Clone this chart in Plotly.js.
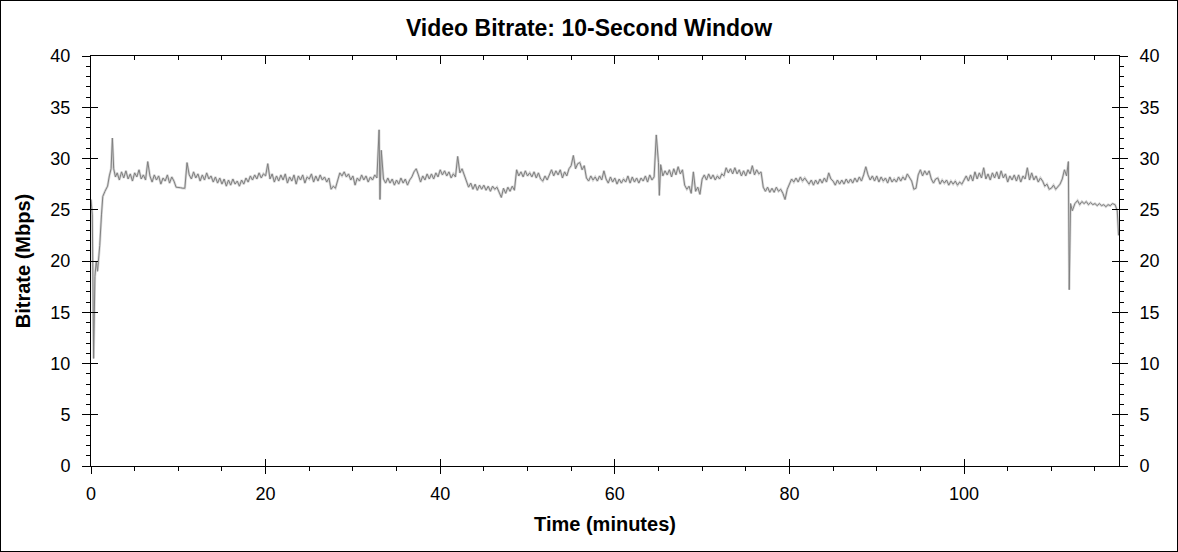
<!DOCTYPE html>
<html><head><meta charset="utf-8">
<script src="https://cdn.plot.ly/plotly-3.0.1.min.js"></script>
<style>
html,body{margin:0;padding:0;background:#fff}
#wrap{position:relative;width:1178px;height:552px}
#chart{width:1178px;height:552px}
#frame{position:absolute;left:0;top:0;width:1178px;height:552px;box-sizing:border-box;border:1px solid #000;pointer-events:none}
</style>
</head><body><div id="wrap"><div id="chart"></div><div id="frame"></div></div>
<script>
const timeMin = [
0.0,0.15,0.3,0.45,0.6,0.75,0.9,1.0,1.2,1.35,1.6,1.9,2.1,2.3,2.45,2.6,2.8,
3,3.25,3.5,3.75, 4,4.25,4.5,4.75, 5,5.25,5.5,5.75, 6,6.25,6.5,6.75, 7,7.25,7.5,7.75,
8,8.25,8.5,8.75, 9,9.25,9.5,9.75, 10,10.25,10.5,10.75, 11,11.25,11.5,11.75, 12,12.25,12.5,12.75,
13,13.25,13.5,13.75, 14,14.25,14.5,14.75, 15,15.25,15.5,15.75, 16,16.25,16.5,16.75, 17,17.25,17.5,17.75,
18,18.25,18.5,18.75, 19,19.25,19.5,19.75, 20,20.25,20.5,20.75, 21,21.25,21.5,21.75, 22,22.25,22.5,22.75,
23,23.25,23.5,23.75, 24,24.25,24.5,24.75, 25,25.25,25.5,25.75, 26,26.25,26.5,26.75, 27,27.25,27.5,27.75,
28,28.25,28.5,28.75, 29,29.25,29.5,29.75, 30,30.25,30.5,30.75, 31,31.25,31.5,31.75, 32,32.25,32.5,32.75,
33,33.1,33.25,33.5,33.75, 34,34.25,34.5,34.75, 35,35.25,35.5,35.75, 36,36.25,36.5,36.75, 37,37.25,37.5,37.75,
38,38.25,38.5,38.75, 39,39.25,39.5,39.75, 40,40.25,40.5,40.75, 41,41.25,41.5,41.75, 42,42.25,42.5,42.75,
43,43.25,43.5,43.75, 44,44.25,44.5,44.75, 45,45.25,45.5,45.75, 46,46.25,46.5,46.75, 47,47.25,47.5,47.75,
48,48.25,48.5,48.75, 49,49.25,49.5,49.75, 50,50.25,50.5,50.75, 51,51.25,51.5,51.75, 52,52.25,52.5,52.75,
53,53.25,53.5,53.75, 54,54.25,54.5,54.75, 55,55.25,55.5,55.75, 56,56.25,56.5,56.75, 57,57.25,57.5,57.75,
58,58.25,58.5,58.75, 59,59.25,59.5,59.75, 60,60.25,60.5,60.75, 61,61.25,61.5,61.75, 62,62.25,62.5,62.75,
63,63.25,63.5,63.75, 64,64.25,64.5,64.75, 65,65.1,65.25,65.5,65.75, 66,66.25,66.5,66.75, 67,67.25,67.5,67.75,
68,68.25,68.5,68.75, 69,69.25,69.5,69.75, 70,70.25,70.5,70.75, 71,71.25,71.5,71.75, 72,72.25,72.5,72.75,
73,73.25,73.5,73.75, 74,74.25,74.5,74.75, 75,75.25,75.5,75.75, 76,76.25,76.5,76.75, 77,77.25,77.5,77.75,
78,78.25,78.5,78.75, 79,79.25,79.5,79.75, 80,80.25,80.5,80.75, 81,81.25,81.5,81.75, 82,82.25,82.5,82.75,
83,83.25,83.5,83.75, 84,84.25,84.5,84.75, 85,85.25,85.5,85.75, 86,86.25,86.5,86.75, 87,87.25,87.5,87.75,
88,88.25,88.5,88.75, 89,89.25,89.5,89.75, 90,90.25,90.5,90.75, 91,91.25,91.5,91.75, 92,92.25,92.5,92.75,
93,93.25,93.5,93.75, 94,94.25,94.5,94.75, 95,95.25,95.5,95.75, 96,96.25,96.5,96.75, 97,97.25,97.5,97.75,
98,98.25,98.5,98.75, 99,99.25,99.5,99.75, 100,100.25,100.5,100.75, 101,101.25,101.5,101.75, 102,102.25,102.5,102.75,
103,103.25,103.5,103.75, 104,104.25,104.5,104.75, 105,105.25,105.5,105.75, 106,106.25,106.5,106.75, 107,107.25,107.5,107.75,
108,108.25,108.5,108.75, 109,109.25,109.5,109.75, 110,110.25,110.5,110.75, 111,111.25,111.5,111.75,
111.95,112.05,112.2,112.4,112.7,113,113.25,113.5,113.75,114,114.25,114.5,114.75,115,115.25,115.5,115.75,
116,116.25,116.5,116.75,117,117.3,117.55,117.7
];
const bitrateMbps = [
26.0,24.5,10.5,18.5,20.0,19.0,20.5,21.5,24.5,26.3,26.8,27.3,28.3,29.0,32.0,29.0,28.2,
28.6,27.9,28.7,28.1, 28.8,28.0,28.5,27.8, 28.6,28.2,28.9,28.0, 28.4,27.9,29.7,28.3, 27.7,28.4,27.9,28.3,
27.5,28.1,27.8,28.4, 27.6,28.2,27.8,27.2, 27.2,27.15,27.1,27.1, 29.6,28.4,28.0,28.7, 28.1,28.5,27.8,28.4,
27.9,28.6,28.0,28.3, 27.7,28.2,27.6,28.1, 27.5,28.0,27.3,27.9, 27.4,28.0,27.5,27.8, 27.3,27.9,27.5,28.1,
27.7,28.3,27.9,28.4, 28.0,28.6,28.1,28.5, 28.3,29.5,28.0,28.5, 27.7,28.3,27.8,28.4, 27.9,28.5,27.6,28.2,
27.8,28.4,27.5,28.3, 27.9,28.4,27.6,28.2, 28.0,28.5,27.7,28.3, 27.8,28.4,27.9,28.2, 27.7,28.1,27.0,27.3,
27.1,28.0,28.6,28.3, 28.7,28.2,28.5,27.9, 28.3,27.4,28.1,27.8, 28.4,27.9,28.3,27.7, 28.2,27.9,28.4,28.1,
32.8,26.0,30.8,28.0,27.6, 28.1,27.6,28.0,27.4, 27.9,27.5,28.1,27.6, 28.0,27.4,27.9,28.2, 28.7,29.0,28.4,27.7,
28.3,27.9,28.5,28.0, 28.5,28.0,28.6,28.2, 28.9,28.4,28.8,28.3, 28.7,28.1,28.5,28.2, 30.2,28.6,29.0,28.4,
27.6,27.2,27.6,27.0, 27.5,26.9,27.4,27.0, 27.4,26.9,27.3,26.8, 27.3,27.0,27.2,26.7, 26.2,27.1,26.6,27.2,
26.8,27.3,26.9,28.9, 28.3,28.7,28.2,28.8, 28.3,28.6,28.2,28.7, 28.1,28.6,28.0,27.8, 28.3,27.9,28.5,28.9,
28.3,28.8,28.4,28.9, 28.1,28.7,28.3,29.0, 29.3,30.3,29.0,29.5, 29.6,28.9,29.3,28.1, 27.8,28.3,27.9,28.2,
27.8,28.3,27.9,28.8, 28.0,27.6,28.2,27.7, 28.1,27.5,28.0,27.6, 28.0,27.7,28.3,27.6, 28.2,27.7,28.1,27.6,
28.1,27.8,28.3,27.7, 28.4,27.9,28.2,32.3, 29.6,26.4,29.4,28.3,28.8, 28.4,28.9,28.2,29.0, 28.4,29.2,28.5,28.9,
27.4,27.0,27.3,26.6, 28.7,26.8,27.2,26.5, 28.0,28.4,27.9,28.5, 28.0,28.4,27.9,28.3, 28.0,28.5,28.3,29.1,
28.6,29.0,28.5,29.1, 28.5,28.9,28.3,28.8, 28.3,28.9,28.5,29.3, 28.4,28.9,28.5,28.7, 27.2,26.8,27.2,26.7,
27.1,26.7,27.2,26.8, 27.0,26.6,26.0,27.0, 27.6,28.0,27.7,28.1, 27.7,28.2,27.8,28.1, 27.8,27.5,27.9,27.4,
27.9,27.5,28.0,27.6, 28.1,27.7,28.6,28.0, 27.8,27.4,27.9,27.5, 27.9,27.5,28.0,27.6, 28.0,27.6,28.1,27.7,
28.2,27.8,28.4,29.2, 28.4,27.9,28.3,27.8, 28.3,27.7,28.2,27.8, 28.1,27.6,28.2,27.7, 28.0,27.7,28.2,27.8,
28.2,27.9,28.5,28.1, 27.8,27.0,27.1,28.4, 28.9,28.3,28.8,28.4, 28.8,28.0,27.6,28.0, 28.1,27.5,27.9,27.6,
27.9,27.4,27.8,27.5, 27.8,27.4,27.7,27.5, 27.9,28.3,27.8,28.4, 27.8,28.7,28.0,28.6, 28.1,29.1,28.0,28.5,
27.9,28.6,28.1,28.7, 28.0,28.8,28.1,28.5, 27.7,28.3,27.9,28.4, 27.8,28.4,27.7,28.3, 28.0,29.1,27.9,28.6,
27.9,28.3,27.7,28.1, 27.8,27.3,27.5,27.0, 27.1,27.4,27.0,27.3, 27.5,28.0,28.9,28.3,
29.7,17.2,25.6,24.9,25.6,25.9,25.5,25.8,25.6,25.8,25.5,25.7,25.5,25.6,25.4,25.6,25.4,
25.5,25.3,25.5,25.4,25.6,25.5,24.9,22.5
];
const xTickVals = [0,20,40,60,80,100];
const xTickText = ['0','20','40','60','80','100'];
const yTickVals = [0,5,10,15,20,25,30,35,40];
const yTickText = ['0','5','10','15','20','25','30','35','40'];
const chartTitle = 'Video Bitrate: 10-Second Window';
const xTitle = 'Time (minutes)';
const yTitle = 'Bitrate (Mbps)';

const F = '"Liberation Sans", Arial, sans-serif';
const xRange = [0, 117.75];
const yRange = [0, 40];
const tickFont = {family: F, size: 18, color: '#000'};
const base = {showgrid: false, zeroline: false, fixedrange: true, automargin: false, tickcolor: '#000', tickwidth: 1};

const traces = [
  {x: timeMin, y: bitrateMbps, mode: 'lines', line: {color: '#d6d6d6', width: 2.5}, xaxis: 'x', yaxis: 'y', hoverinfo: 'skip'},
  {x: timeMin, y: bitrateMbps, mode: 'lines', line: {color: '#808080', width: 1}, xaxis: 'x', yaxis: 'y'},
  {x: [], y: [], mode: 'lines', xaxis: 'x2', yaxis: 'y2'},
  {x: [], y: [], mode: 'lines', xaxis: 'x3', yaxis: 'y3'},
  {x: [], y: [], mode: 'lines', xaxis: 'x2', yaxis: 'y4'}
];

const layout = {
  width: 1178, height: 552,
  margin: {l: 91, r: 59, t: 56, b: 86, pad: 0},
  paper_bgcolor: '#fff', plot_bgcolor: '#fff',
  showlegend: false,
  title: {text: chartTitle, font: {family: F, size: 23, color: '#000', weight: 'bold'}, x: 0.5, xanchor: 'center', y: 1 - 28/552, yanchor: 'middle', yref: 'container'},
  xaxis: Object.assign({}, base, {
    range: xRange, anchor: 'y', side: 'bottom',
    tickmode: 'array', tickvals: xTickVals, ticktext: xTickText,
    ticks: 'outside', ticklen: 7, tickfont: tickFont, ticklabelstandoff: 4,
    showline: true, linecolor: '#000', linewidth: 1,
    minor: {ticks: 'outside', ticklen: 4, dtick: 5, tick0: 0, tickcolor: '#000', tickwidth: 1, showgrid: false},
    title: {text: xTitle, font: {family: F, size: 20, color: '#000', weight: 'bold'}, standoff: 14}
  }),
  xaxis2: Object.assign({}, base, {
    range: xRange, overlaying: 'x', anchor: 'y', side: 'bottom',
    tickmode: 'array', tickvals: xTickVals, ticks: 'inside', ticklen: 7,
    showticklabels: false, showline: false
  }),
  xaxis3: Object.assign({}, base, {
    range: xRange, overlaying: 'x', anchor: 'y', side: 'top',
    tickmode: 'array', tickvals: xTickVals, ticks: 'inside', ticklen: 8,
    showticklabels: false, showline: true, linecolor: '#000', linewidth: 1,
    minor: {ticks: 'inside', ticklen: 4, dtick: 5, tick0: 0, tickcolor: '#000', tickwidth: 1, showgrid: false}
  }),
  yaxis: Object.assign({}, base, {
    range: yRange, anchor: 'x', side: 'left',
    tickmode: 'array', tickvals: yTickVals, ticktext: yTickText,
    ticks: 'outside', ticklen: 8, tickfont: tickFont, ticklabelstandoff: 8,
    showline: true, linecolor: '#000', linewidth: 1,
    minor: {ticks: 'outside', ticklen: 4, dtick: 1, tick0: 0, tickcolor: '#000', tickwidth: 1, showgrid: false},
    title: {text: yTitle, font: {family: F, size: 20, color: '#000', weight: 'bold'}, standoff: 14}
  }),
  yaxis2: Object.assign({}, base, {
    range: yRange, overlaying: 'y', anchor: 'x', side: 'left',
    tickmode: 'array', tickvals: yTickVals, ticks: 'inside', ticklen: 7,
    showticklabels: false, showline: false
  }),
  yaxis3: Object.assign({}, base, {
    range: yRange, overlaying: 'y', anchor: 'x', side: 'right',
    tickmode: 'array', tickvals: yTickVals, ticktext: yTickText,
    ticks: 'outside', ticklen: 8, tickfont: tickFont, ticklabelstandoff: 8,
    showline: true, linecolor: '#000', linewidth: 1,
    minor: {ticks: 'outside', ticklen: 4, dtick: 1, tick0: 0, tickcolor: '#000', tickwidth: 1, showgrid: false}
  }),
  yaxis4: Object.assign({}, base, {
    range: yRange, overlaying: 'y', anchor: 'x', side: 'right',
    tickmode: 'array', tickvals: yTickVals, ticks: 'inside', ticklen: 7,
    showticklabels: false, showline: false
  })
};

Plotly.newPlot('chart', traces, layout, {displayModeBar: false, staticPlot: true});
</script>
</body></html>
